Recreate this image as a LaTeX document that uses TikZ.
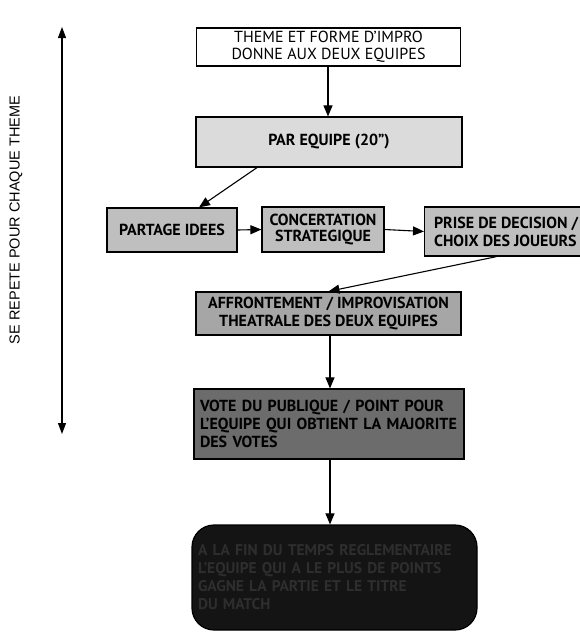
\documentclass[tikz,border=0pt]{standalone}
\usepackage{fontspec}
\setmainfont{PT Sans}
\newfontfamily\labelfont{Liberation Sans}
\usetikzlibrary{arrows.meta}
\begin{document}
\begin{tikzpicture}[x=1pt,y=-1pt,
  box/.style={draw=black,line width=1.2pt,font=\bfseries\fontsize{16}{18}\selectfont,inner sep=0pt},
  conn/.style={draw=black,line width=1.1pt,-{Triangle[length=11pt,width=9pt]}}]
\useasboundingbox (0,0) rectangle (580,632);
% boxes
\node[box,fill=white,minimum width=264,minimum height=38,align=center,font=\fontsize{16}{17}\selectfont] (theme) at (328.5,47)
  {THEME ET FORME D'IMPRO\\DONNE AUX DEUX EQUIPES};
\node[box,fill=gray!28,minimum width=266,minimum height=50] (equipe) at (329,142) {PAR EQUIPE (20'')};
\node[box,fill=gray!50,minimum width=130,minimum height=44] (partage) at (172,230) {PARTAGE IDEES};
\node[box,fill=gray!50,minimum width=122,minimum height=45,align=center,font=\bfseries\fontsize{16}{16}\selectfont] (concert) at (323,229.5) {CONCERTATION\\STRATEGIQUE};
\node[box,fill=gray!50,minimum width=160,minimum height=49,align=left,font=\bfseries\fontsize{16}{18}\selectfont,anchor=west] (prise) at (424,231.5) {\hspace{3pt}PRISE DE DECISION /\\\hspace{3pt}CHOIX DES JOUEURS};
\node[box,fill=gray!70,minimum width=265,minimum height=43,align=center,font=\bfseries\fontsize{16}{18}\selectfont] (affront) at (328.5,313.5) {AFFRONTEMENT / IMPROVISATION\\THEATRALE DES DEUX EQUIPES};
\node[box,fill=gray!85!black,minimum width=270,minimum height=70,align=left,text width=258,font=\bfseries\fontsize{16}{18}\selectfont] (vote) at (329,424) {VOTE DU PUBLIQUE / POINT POUR\\L'EQUIPE QUI OBTIENT LA MAJORITE\\DES VOTES};
\node[box,fill=black!92,rounded corners=22pt,minimum width=285,minimum height=105,align=left,text width=273,text=black!82,font=\bfseries\fontsize{15.5}{18}\selectfont] (fin) at (334.5,577.5) {A LA FIN DU TEMPS REGLEMENTAIRE\\L'EQUIPE QUI A LE PLUS DE POINTS\\GAGNE LA PARTIE ET LE TITRE\\DU MATCH};
% connectors
\draw[conn] (theme.south -| 328,0) -- (equipe.north -| 328,0);
\draw[conn] ([xshift=-72pt]equipe.south) -- ([xshift=27pt]partage.north);
\draw[conn] (partage.east) -- (concert.west);
\draw[conn] (concert.east) -- (prise.west);
\draw[conn] ([xshift=-8pt]prise.south) -- ([xshift=0pt]affront.north);
\draw[conn] (affront.south -| 330,0) -- (vote.north -| 330,0);
\draw[conn] (vote.south -| 330,0) -- (fin.north -| 330,0);
% side arrow
\coordinate (top) at (62,27);
\coordinate (bot) at (62,434);
\draw[line width=1.1pt,{Triangle[length=11pt,width=8pt]}-{Triangle[length=11pt,width=8pt]}] (top) -- (bot);
\node[rotate=90,font=\labelfont\fontsize{14.5}{16}\selectfont] (lbl) at (16,220) {SE REPETE POUR CHAQUE THEME};
\end{tikzpicture}
\end{document}
